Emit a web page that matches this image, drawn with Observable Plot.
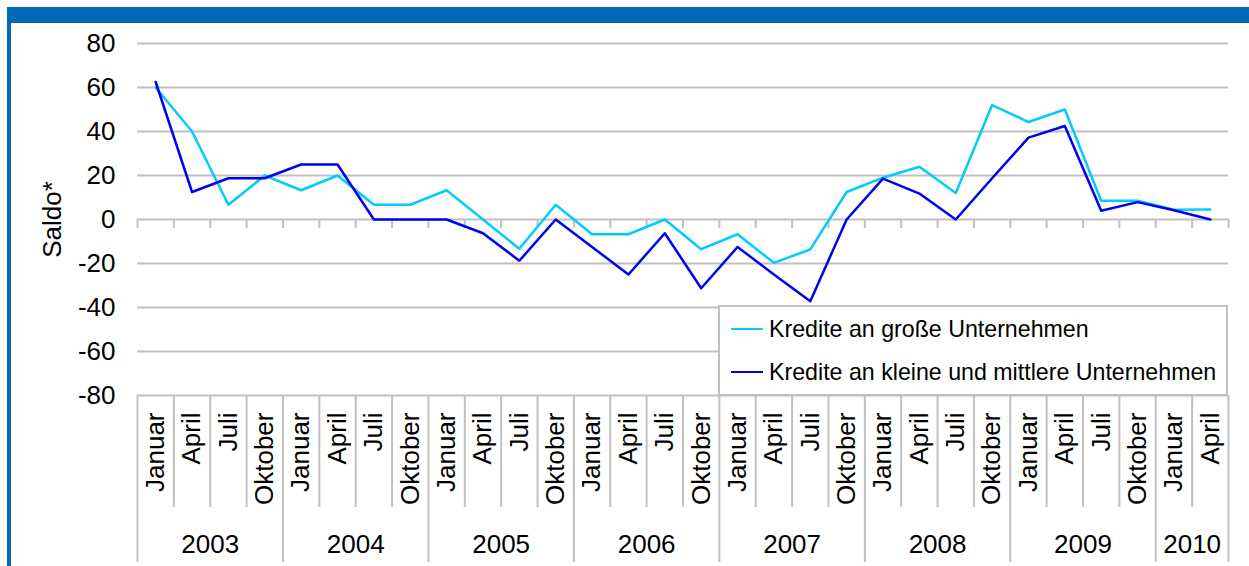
<!DOCTYPE html>
<html>
<head>
<meta charset="utf-8">
<script src="https://cdn.jsdelivr.net/npm/d3@7"></script>
<script src="https://cdn.jsdelivr.net/npm/@observablehq/plot@0.6"></script>
<style>
  html, body { margin: 0; padding: 0; background: #fff; }
  #wrap { position: relative; width: 1249px; height: 566px; overflow: hidden; font-family: "Liberation Sans", Arial, sans-serif; }
  .bar { position: absolute; background: #006ab4; }
  #legend { position: absolute; left: 718px; top: 305px; width: 510px; height: 91px; box-sizing: border-box;
            border: 2px solid #c0c0c0; background: #fff; font-size: 23.2px; color: #000; }
  .row { position: absolute; left: 11px; height: 30px; display: flex; align-items: center; white-space: nowrap; }
  .swatch { width: 32px; height: 0; border-top: 2.5px solid; margin-right: 6px; }
  svg { position: absolute; left: 0; top: 0; }
</style>
</head>
<body>
<div id="wrap">
  <div class="bar" style="left:7px; top:7px; width:1242px; height:16px;"></div>
  <div class="bar" style="left:7px; top:7px; width:4px; height:559px;"></div>
</div>
<script>
// ---- data ----
const monthLabels = ["Januar", "April", "Juli", "Oktober"];
const yearLabels = ["2003", "2004", "2005", "2006", "2007", "2008", "2009", "2010"];
const quartersPerYear = [4, 4, 4, 4, 4, 4, 4, 2];
const seriesNames = ["Kredite an große Unternehmen", "Kredite an kleine und mittlere Unternehmen"];
const grosse = [60, 40, 6.7, 20, 13.3, 20, 6.7, 6.7, 13.3, 0, -13.3, 6.7, -6.7, -6.7, 0, -13.5,
                -6.7, -19.7, -13.6, 12.5, 19, 24, 12, 52, 44.3, 50, 8.5, 8.5, 4.4, 4.6];
const klein = [62.5, 12.5, 18.75, 18.75, 25, 25, 0, 0, 0, -6.25, -18.75, 0, -12.5, -25, -6.25, -31.25,
               -12.5, -25, -37.2, 0, 18.6, 11.8, 0, 18.75, 37.2, 42.5, 4, 7.9, 4.2, 0];
const yTicks = [-80, -60, -40, -20, 0, 20, 40, 60, 80];
const colors = ["#00ccff", "#0000f0"];

// ---- derived tables ----
const table = [];
const yearRows = [];
let idx = 0;
yearLabels.forEach((yr, k) => {
  const start = idx;
  for (let q = 0; q < quartersPerYear[k]; q++) {
    table.push({i: idx, month: monthLabels[q], year: yr, grosse: grosse[idx], klein: klein[idx]});
    idx++;
  }
  yearRows.push({year: yr, start, end: idx});
});
const n = table.length;
const allBounds = d3.range(0, n + 1);
const yearBounds = [0, ...yearRows.map(d => d.end)];
const monthBounds = allBounds.filter(b => !yearBounds.includes(b));
const grid = "#c0c0c0";

const chart = Plot.plot({
  width: 1249,
  height: 566,
  marginLeft: 137,
  marginRight: 21,
  marginTop: 43,
  marginBottom: 171,
  style: {fontFamily: "'Liberation Sans', Arial, sans-serif", fontSize: "26px", color: "#000", background: "transparent", overflow: "visible"},
  x: {domain: [0, n], axis: null},
  y: {domain: [-80, 80], axis: null},
  marks: [
    Plot.gridY(yTicks, {stroke: grid, strokeOpacity: 1, strokeWidth: 2}),
    Plot.axisY(yTicks, {tickSize: 0, tickPadding: 22, fontSize: 26, tickFormat: d => String(d), label: null}),
    Plot.ruleX(allBounds, {x: d => d, y1: 0, y2: 0, insetBottom: -9, stroke: grid, strokeWidth: 2}),
    Plot.ruleX(monthBounds, {x: d => d, y1: -80, y2: -80, insetBottom: -112, stroke: grid, strokeWidth: 2}),
    Plot.ruleX(yearBounds, {x: d => d, y1: -80, y2: -80, insetBottom: -167, stroke: grid, strokeWidth: 2}),
    Plot.line(table, {x: d => d.i + 0.5, y: "grosse", stroke: colors[0], strokeWidth: 2.5}),
    Plot.line(table, {x: d => d.i + 0.5, y: "klein", stroke: colors[1], strokeWidth: 2.5}),
    Plot.text(table, {x: d => d.i + 0.5, text: "month", frameAnchor: "bottom", dy: 17, rotate: -90,
                      textAnchor: "end", lineAnchor: "middle", fontSize: 26, fill: "#000"}),
    Plot.text(yearRows, {x: d => (d.start + d.end) / 2, text: "year", frameAnchor: "bottom", dy: 149,
                         lineAnchor: "middle", fontSize: 26, fill: "#000"}),
    Plot.text(["Saldo*"], {frameAnchor: "left", y: 0, dx: -84.5, rotate: -90, textAnchor: "middle",
                          lineAnchor: "middle", fontSize: 26, fill: "#000"})
  ]
});
const wrap = document.getElementById("wrap");
wrap.appendChild(chart);

// legend
const legend = document.createElement("div");
legend.id = "legend";
seriesNames.forEach((name, k) => {
  const row = document.createElement("div");
  row.className = "row";
  row.style.top = (k === 0 ? 7 : 50) + "px";
  const sw = document.createElement("span");
  sw.className = "swatch";
  sw.style.borderTopColor = colors[k];
  const tx = document.createElement("span");
  tx.textContent = name;
  row.appendChild(sw);
  row.appendChild(tx);
  legend.appendChild(row);
});
wrap.appendChild(legend);
</script>
</body>
</html>
